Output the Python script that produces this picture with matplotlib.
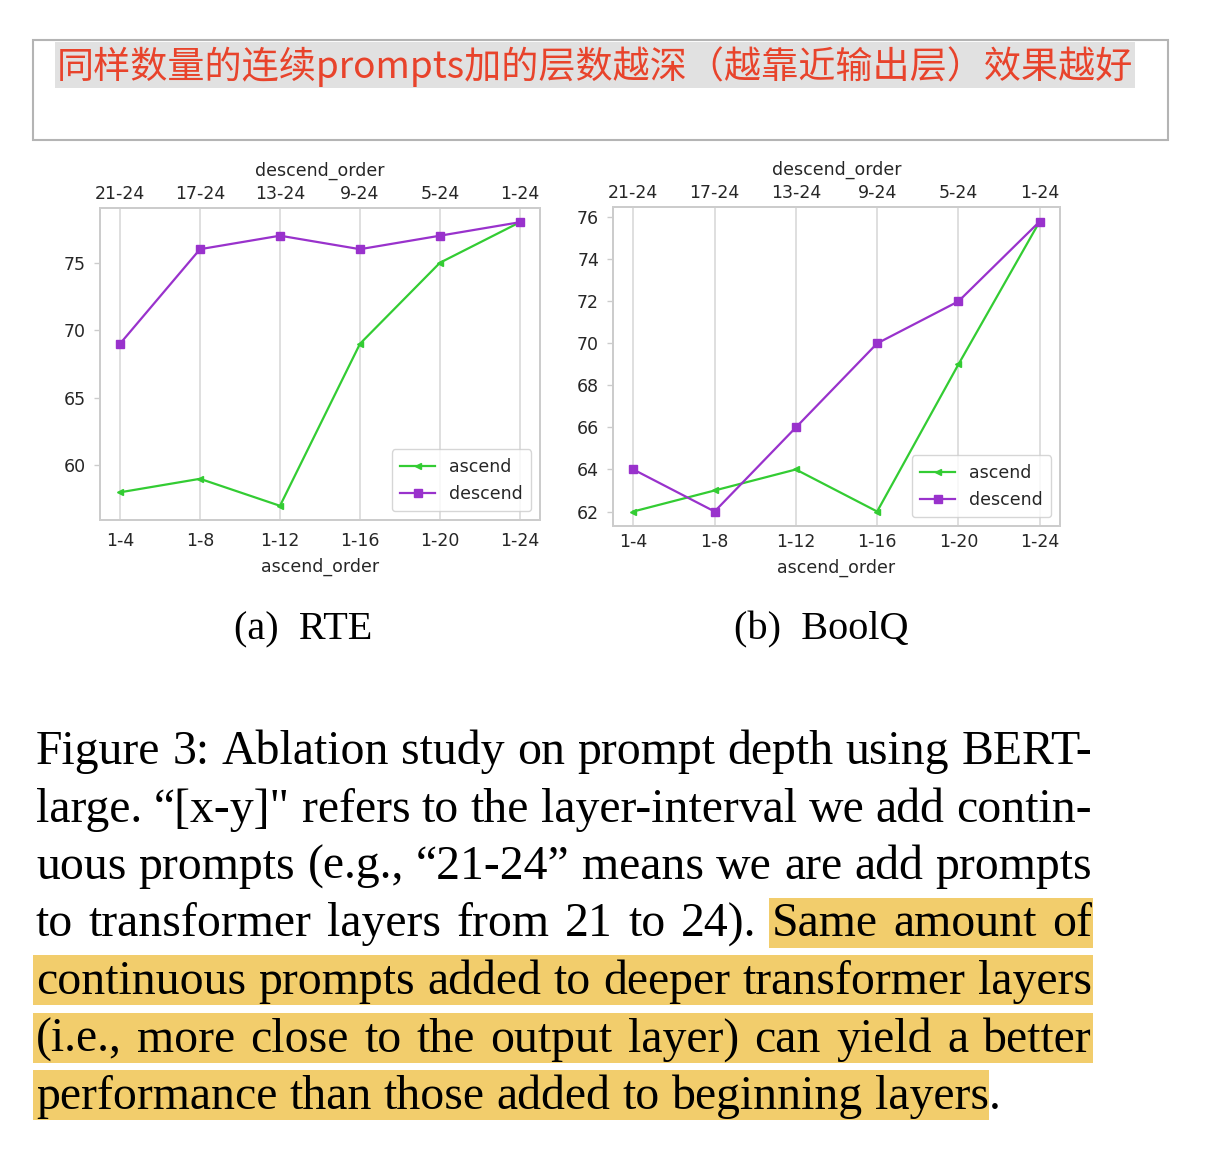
import matplotlib
matplotlib.use('Agg')
import matplotlib.pyplot as plt
from matplotlib.patches import Rectangle

# data
ascend_labels = ['1-4', '1-8', '1-12', '1-16', '1-20', '1-24']
descend_labels = ['21-24', '17-24', '13-24', '9-24', '5-24', '1-24']
rte_ascend = [58, 59, 57, 69, 75, 78]
rte_descend = [69, 76, 77, 76, 77, 78]
boolq_ascend = [62, 63, 64, 62, 69, 75.8]
boolq_descend = [64, 62, 66, 70, 72, 75.8]
rte_yticks = [60, 65, 70, 75]
boolq_yticks = [62, 64, 66, 68, 70, 72, 74, 76]

header_text = '同样数量的连续prompts加的层数越深（越靠近输出层）效果越好'
caption_lines = [
    'Figure 3: Ablation study on prompt depth using BERT-',
    'large. \u201c[x-y]" refers to the layer-interval we add contin-',
    'uous prompts (e.g., \u201c21-24\u201d means we are add prompts',
    'to transformer layers from 21 to 24). Same amount of',
    'continuous prompts added to deeper transformer layers',
    '(i.e., more close to the output layer) can yield a better',
    'performance than those added to beginning layers.',
]

W, H = 1210, 1156
fig = plt.figure(figsize=(W / 100, H / 100), dpi=100)
fig.patch.set_facecolor('white')

# overlay in pixel coordinates for the page-like parts
bg = fig.add_axes([0, 0, 1, 1])
bg.set_xlim(0, W)
bg.set_ylim(H, 0)
bg.axis('off')
renderer = fig.canvas.get_renderer()


def measure(s, fs, family, weight='normal'):
    t = bg.text(0, 0, s, fontsize=fs, family=family, fontweight=weight)
    w = t.get_window_extent(renderer).width
    t.remove()
    return w


# header box with highlighted chinese note
bg.add_patch(Rectangle((33, 40), 1135, 100, facecolor='none', edgecolor='#b4b4b4', lw=1.5))
bg.add_patch(Rectangle((55, 42), 1080, 46, facecolor='#e1e1e1', edgecolor='none'))
cjk = ['Noto Sans CJK SC', 'DejaVu Sans']
hfs = 20 * 1075 / measure(header_text, 20, cjk, 'medium')
bg.text(57, 67, header_text, fontsize=hfs, family=cjk, fontweight='medium',
        color='#e8432b', va='center', ha='left')

# plots
spine_c = '#cccccc'
text_c = '#262626'
fsz = 12.5


def draw_panel(left, right, top, bottom, asc, desc, yticks, bpad, blabelpad):
    ax = fig.add_axes([left / W, 1 - bottom / H, (right - left) / W, (bottom - top) / H])
    x = list(range(len(ascend_labels)))
    ax.plot(x, asc, color='#33cc33', marker='<', ms=5, lw=1.6, label='ascend')
    ax.plot(x, desc, color='#9932cc', marker='s', ms=6, lw=1.6, label='descend')
    ax.set_xticks(x)
    ax.set_xticklabels(ascend_labels)
    ax.set_yticks(yticks)
    ax.set_xlabel('ascend_order', fontsize=fsz, color=text_c, labelpad=blabelpad)
    ax.grid(axis='x', color='#d6d6d6', lw=1.1)
    ax.set_axisbelow(True)
    ax.tick_params(axis='x', length=0, pad=bpad, labelsize=fsz, labelcolor=text_c)
    ax.tick_params(axis='y', length=4, width=1, color=spine_c, pad=6, labelsize=fsz, labelcolor=text_c)
    for s in ax.spines.values():
        s.set_color(spine_c)
        s.set_linewidth(1.3)
    xl = ax.get_xlim()
    ax2 = ax.twiny()
    ax2.set_xlim(xl)
    ax2.set_xticks(x)
    ax2.set_xticklabels(descend_labels)
    ax2.set_xlabel('descend_order', fontsize=fsz, color=text_c, labelpad=6.5)
    ax2.tick_params(axis='x', length=0, pad=3.5, labelsize=fsz, labelcolor=text_c)
    for s in ax2.spines.values():
        s.set_color(spine_c)
        s.set_linewidth(1.3)
    leg = ax.legend(loc='lower right', fontsize=fsz, frameon=True, borderpad=0.5)
    leg.get_frame().set_edgecolor(spine_c)
    for t in leg.get_texts():
        t.set_color(text_c)
    return ax


draw_panel(100, 540, 208, 520, rte_ascend, rte_descend, rte_yticks, 9, 5)
draw_panel(613, 1060, 207, 526, boolq_ascend, boolq_descend, boolq_yticks, 5, 5.5)

# sub captions
serif = 'Liberation Serif'
bg.text(303, 630, '(a)  RTE', fontsize=29, family=serif, ha='center', va='center', color='black')
bg.text(821, 630, '(b)  BoolQ', fontsize=29, family=serif, ha='center', va='center', color='black')

# caption, justified by hand
left_x, right_x = 36, 1092
cfs = 30 * (1000 - left_x) / measure(caption_lines[-1], 30, serif)
space_w = measure('a a', cfs, serif) - measure('aa', cfs, serif)
hl = '#f2cd6c'
base0, step = 764, 57.5

for i, line in enumerate(caption_lines):
    words = line.split(' ')
    widths = [measure(w, cfs, serif) for w in words]
    last = i == len(caption_lines) - 1
    gap = space_w if last else (right_x - left_x - sum(widths)) / (len(words) - 1)
    y = base0 + i * step
    pos = []
    xx = left_x
    for w, wd in zip(words, widths):
        pos.append((xx, wd))
        xx += wd + gap
    # highlight boxes
    if i == 3:
        sx = pos[words.index('Same')][0] - 3
        bg.add_patch(Rectangle((sx, y - 39), 1093 - sx, 50, facecolor=hl, edgecolor='none'))
    elif i in (4, 5):
        bg.add_patch(Rectangle((33, y - 39), 1093 - 33, 50, facecolor=hl, edgecolor='none'))
    elif last:
        ex = pos[-1][0] + pos[-1][1] - measure('.', cfs, serif)
        bg.add_patch(Rectangle((33, y - 39), ex - 33, 50, facecolor=hl, edgecolor='none'))
    for w, (px, wd) in zip(words, pos):
        bg.text(px, y, w, fontsize=cfs, family=serif, ha='left', va='baseline', color='black')

fig.savefig('out.png', dpi=100)
